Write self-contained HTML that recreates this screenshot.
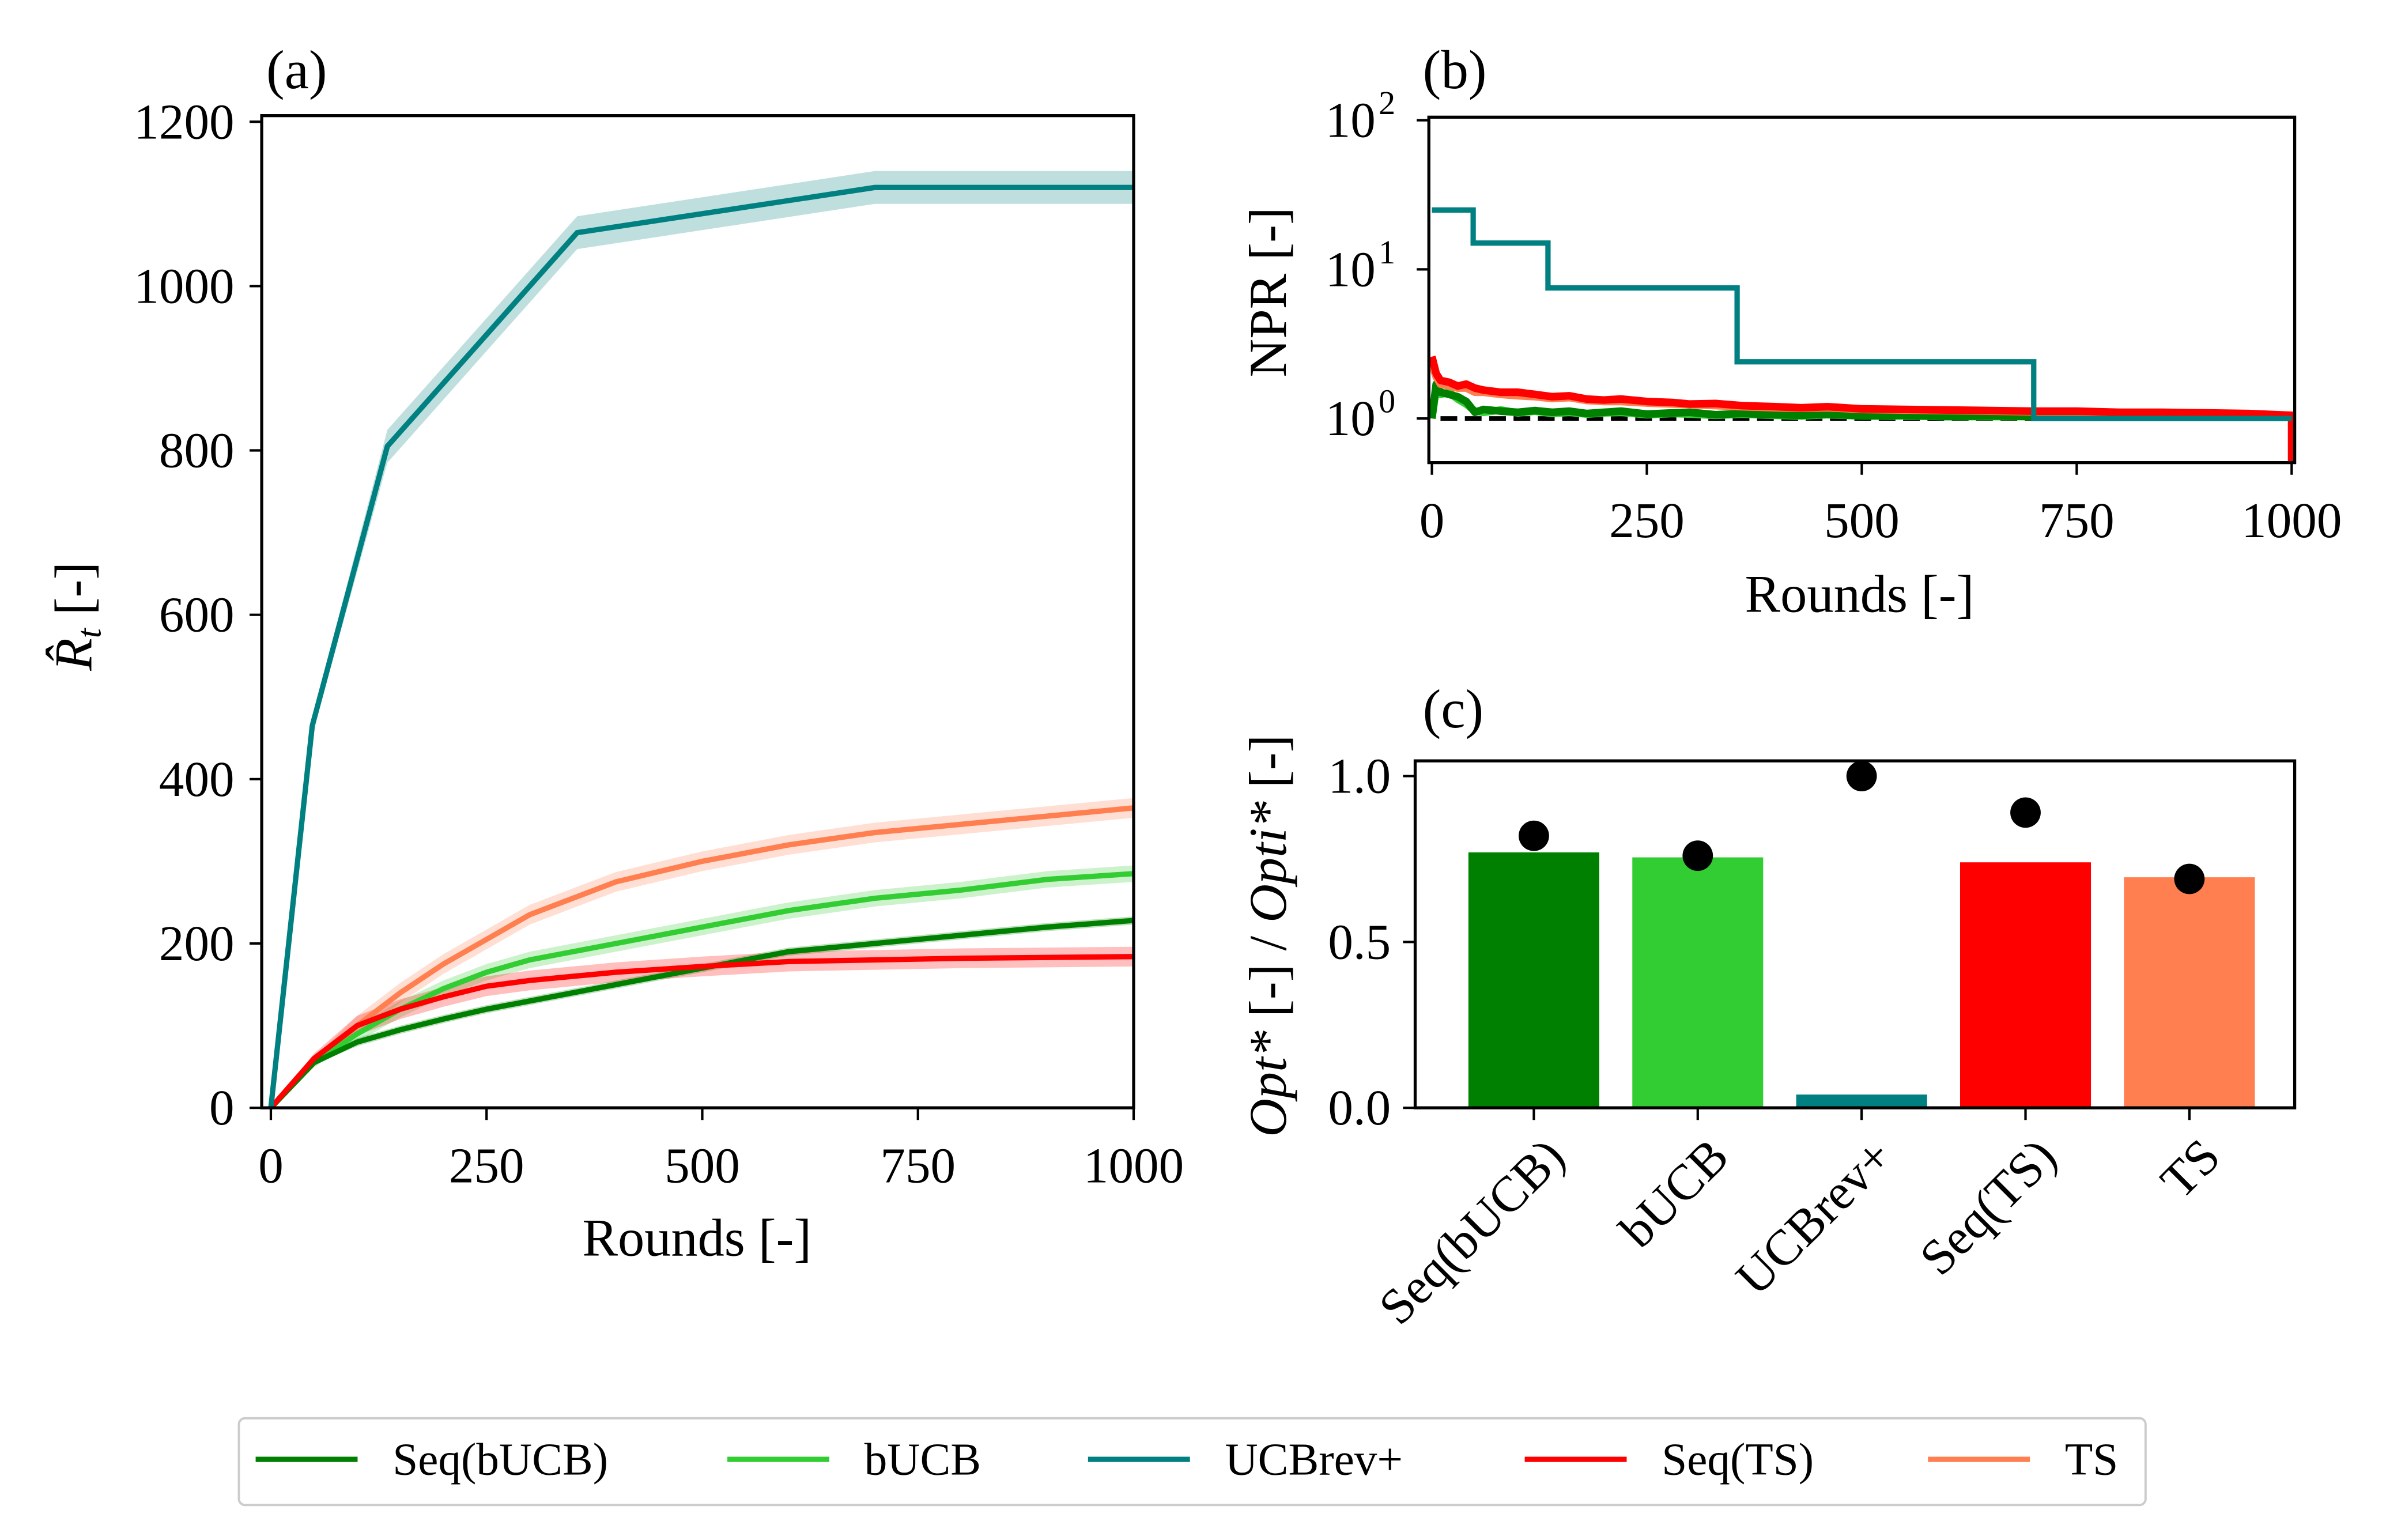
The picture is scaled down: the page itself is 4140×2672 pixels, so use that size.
<!DOCTYPE html>
<html><head><meta charset="utf-8">
<style>
html,body{margin:0;padding:0;background:#fff;}
svg{display:block;font-family:"Liberation Serif","DejaVu Serif",serif;}
</style></head>
<body>
<svg id="fig" width="4140" height="2672" viewBox="0 0 1568 1012" xmlns="http://www.w3.org/2000/svg">
<rect width="1568" height="1012" fill="#fff"/>
<g id="pa"></g>
<g id="pb"></g>
<g id="pc"></g>
<g id="legend">
  <rect x="157" y="932" width="1253" height="57" rx="4" fill="#fff" stroke="#ccc" stroke-width="1.5"/>
</g>
</svg>
<script>
const names = ["Seq(bUCB)","bUCB","UCBrev+","Seq(TS)","TS"];
const colors = ["#008000","#32cd32","#008080","#ff0000","#ff7f50"];
// panel a data
const roundsA = [0,50,100,150,200,250,300,350,400,500,600,700,800,900,1000];
const seqBucbA = [0,55,80,95,108,120,130,140,150,170,190,200,210,220,228];
const bucbA = [0,55,90,120,145,165,180,190,200,220,240,255,265,278,285];
const tsA = [0,55,100,140,175,205,235,255,275,300,320,335,345,355,365];
const seqTsA = [0,60,100,120,135,148,155,160,165,172,178,180,182,183,184];
const ucbRounds = [0,48,135,355,700,1000];
const ucbA = [0,465,805,1065,1120,1120];
const bandA = [5,10,20,12,12];
// panel b data
const roundsB = [0,5,10,20,30,40,50,60,80,100,120,140,160,180,200,220,250,280,300,330,360,400,430,460,500,550,600,650,700,750,800,850,900,950,1000];
const seqBucbB = [1.0,1.7,1.5,1.45,1.4,1.3,1.1,1.15,1.12,1.1,1.13,1.1,1.12,1.08,1.1,1.12,1.07,1.09,1.1,1.06,1.08,1.06,1.05,1.07,1.04,1.05,1.03,1.04,1.03,1.04,1.02,1.03,1.02,1.03,1.02];
const bucbB = [1.0,1.6,1.45,1.5,1.35,1.25,1.12,1.1,1.14,1.09,1.12,1.08,1.1,1.07,1.09,1.1,1.06,1.08,1.07,1.05,1.07,1.05,1.04,1.06,1.04,1.04,1.03,1.03,1.03,1.03,1.02,1.02,1.02,1.02,1.02];
const seqTsB = [2.6,2.0,1.8,1.75,1.65,1.7,1.6,1.55,1.5,1.5,1.45,1.4,1.42,1.35,1.33,1.35,1.3,1.28,1.25,1.26,1.22,1.2,1.18,1.2,1.16,1.15,1.14,1.13,1.12,1.12,1.1,1.1,1.09,1.08,1.05];
const tsB = [2.3,1.9,1.7,1.65,1.6,1.6,1.5,1.5,1.45,1.42,1.4,1.36,1.38,1.32,1.3,1.3,1.27,1.25,1.24,1.22,1.2,1.18,1.17,1.18,1.15,1.14,1.13,1.12,1.11,1.11,1.09,1.09,1.08,1.07,1.05];
const ucbStepRounds = [0,48,135,355,700,1000];
const ucbStepVals = [25,15,7.5,2.4,1.0,1.0];
// panel c data
const barVals = [0.77,0.755,0.04,0.74,0.695];
const dotVals = [0.82,0.76,1.0,0.89,0.69];
const ticksA_x = [0,250,500,750,1000];
const ticksA_y = [0,200,400,600,800,1000,1200];
const ticksC_y = [0.0,0.5,1.0];

const NS="http://www.w3.org/2000/svg";
function mk(tag, attrs, parent, txt){const e=document.createElementNS(NS,tag);for(const k in attrs)e.setAttribute(k,attrs[k]);if(txt!==undefined)e.textContent=txt;parent.appendChild(e);return e;}

// ---------- panel a
const pa=document.getElementById('pa');
const xa=v=>178+v*0.567, ya=v=>728-v*0.54;
const seriesA=[seqBucbA,bucbA,null,seqTsA,tsA];
function bandPath(xs,ys,b,xf,yf){let up=xs.map((x,i)=>xf(x)+','+yf(ys[i]+b*Math.min(1,i/2))),dn=xs.map((x,i)=>xf(x)+','+yf(Math.max(0,ys[i]-b*Math.min(1,i/2)))).reverse();return 'M'+up.join('L')+'L'+dn.join('L')+'Z';}
[4,1,0,3].forEach(i=>{
  let el=mk('path',{d:bandPath(roundsA,seriesA[i],bandA[i],xa,ya),fill:colors[i],'fill-opacity':0.25,stroke:'none'},pa);
  
  
});
let ub=mk('path',{d:bandPath(ucbRounds,ucbA,bandA[2],xa,ya),fill:colors[2],'fill-opacity':0.25},pa);


[4,1,0,3].forEach(i=>{
  let el=mk('polyline',{points:roundsA.map((x,j)=>xa(x)+','+ya(seriesA[i][j])).join(' '),fill:'none',stroke:colors[i],'stroke-width':3.5},pa);
  
  
});
let ul=mk('polyline',{points:ucbRounds.map((x,j)=>xa(x)+','+ya(ucbA[j])).join(' '),fill:'none',stroke:colors[2],'stroke-width':3.5},pa);


mk('rect',{x:172,y:76,width:573,height:652,fill:'none',stroke:'#000','stroke-width':2},pa);
ticksA_x.forEach(t=>{mk('line',{x1:xa(t),x2:xa(t),y1:728,y2:736,stroke:'#000','stroke-width':1.6},pa);mk('text',{x:xa(t),y:777,'font-size':33,'text-anchor':'middle'},pa,t);});
ticksA_y.forEach(t=>{mk('line',{x1:164,x2:172,y1:ya(t),y2:ya(t),stroke:'#000','stroke-width':1.6},pa);mk('text',{x:154,y:ya(t)+11,'font-size':33,'text-anchor':'end'},pa,t);});
mk('text',{x:458,y:825,'font-size':35,'text-anchor':'middle'},pa,'Rounds [-]');
let yl=mk('text',{x:0,y:0,'font-size':35,'text-anchor':'middle',transform:'translate(60,405) rotate(-90)'},pa);
mk('tspan',{'font-style':'italic'},yl,'R̂');mk('tspan',{'font-style':'italic','font-size':23,dy:6},yl,'t');mk('tspan',{dy:-6},yl,' [-]');
mk('text',{x:175,y:58,'font-size':36},pa,'(a)');

// ---------- panel b
const pb=document.getElementById('pb');
const xb=v=>941+v*0.565, yb=v=>275-98*Math.log10(v);
mk('line',{x1:xb(10),x2:xb(1000),y1:yb(1),y2:yb(1),stroke:'#000','stroke-width':3,'stroke-dasharray':'11,5'},pb);
const seriesB=[seqBucbB,bucbB,null,seqTsB,tsB];
[1,0,4,3].forEach(i=>{
  let pts=roundsB.map((x,j)=>xb(x)+','+yb(seriesB[i][j]));
  if(i===3) pts.push(xb(1000)+','+yb(0.5));
  let el=mk('polyline',{points:pts.join(' '),fill:'none',stroke:colors[i],'stroke-width':5,'stroke-linejoin':'round'},pb);
  
  
});
let sp=[];ucbStepRounds.forEach((r,j)=>{if(j>0)sp.push(xb(r)+','+yb(ucbStepVals[j-1]));sp.push(xb(r)+','+yb(ucbStepVals[j]));});
let us=mk('polyline',{points:sp.join(' '),fill:'none',stroke:colors[2],'stroke-width':3.5},pb);


mk('rect',{x:939,y:77,width:569,height:227,fill:'none',stroke:'#000','stroke-width':2},pb);
ticksA_x.forEach(t=>{mk('line',{x1:xb(t),x2:xb(t),y1:304,y2:312,stroke:'#000','stroke-width':1.6},pb);mk('text',{x:xb(t),y:353,'font-size':33,'text-anchor':'middle'},pb,t);});
[0,1,2].forEach(e=>{const y=yb(Math.pow(10,e));mk('line',{x1:931,x2:939,y1:y,y2:y,stroke:'#000','stroke-width':1.6},pb);
 mk('text',{x:904,y:y+11,'font-size':33,'text-anchor':'end'},pb,'10');mk('text',{x:906,y:y-4,'font-size':22},pb,e);});
mk('text',{x:1222,y:402,'font-size':35,'text-anchor':'middle'},pb,'Rounds [-]');
mk('text',{x:0,y:0,'font-size':35,'text-anchor':'middle',transform:'translate(845,192) rotate(-90)'},pb,'NPR [-]');
mk('text',{x:935,y:58,'font-size':36},pb,'(b)');

// ---------- panel c
const pc=document.getElementById('pc');
const yc=v=>728-218*v; const xc=i=>1008+i*107.7;
barVals.forEach((v,i)=>{
  let b=mk('rect',{x:xc(i)-43,y:yc(v),width:86,height:728-yc(v),fill:colors[i]},pc);
  
  
});
dotVals.forEach((v,i)=>{
  let d=mk('circle',{cx:xc(i),cy:yc(v),r:10,fill:'#000'},pc);
  
  
});
mk('rect',{x:930,y:500,width:578,height:228,fill:'none',stroke:'#000','stroke-width':2},pc);
ticksC_y.forEach(t=>{mk('line',{x1:922,x2:930,y1:yc(t),y2:yc(t),stroke:'#000','stroke-width':1.6},pc);mk('text',{x:914,y:yc(t)+11,'font-size':33,'text-anchor':'end'},pc,t.toFixed(1));});
names.forEach((n,i)=>{mk('line',{x1:xc(i),x2:xc(i),y1:728,y2:736,stroke:'#000','stroke-width':1.6},pc);
 mk('text',{x:0,y:0,'font-size':33,'text-anchor':'end',transform:`translate(${xc(i)+22},762) rotate(-45)`},pc,n);});
let cl=mk('text',{x:0,y:0,'font-size':35,'text-anchor':'middle',transform:'translate(845,615) rotate(-90)'},pc);
mk('tspan',{'font-style':'italic'},cl,'Opt*');mk('tspan',{},cl,' [-] / ');mk('tspan',{'font-style':'italic'},cl,'Opti*');mk('tspan',{},cl,' [-]');
mk('text',{x:935,y:478,'font-size':36},pc,'(c)');

// ---------- legend
const lg=document.getElementById('legend');
const lx=[168,478,715,1002,1267];
names.forEach((n,i)=>{
  let l=mk('line',{x1:lx[i],x2:lx[i]+67,y1:959,y2:959,stroke:colors[i],'stroke-width':3.5},lg);
  
  
  let t=mk('text',{x:lx[i]+90,y:969,'font-size':30},lg,n);
  
  
});
</script>
</body></html>
